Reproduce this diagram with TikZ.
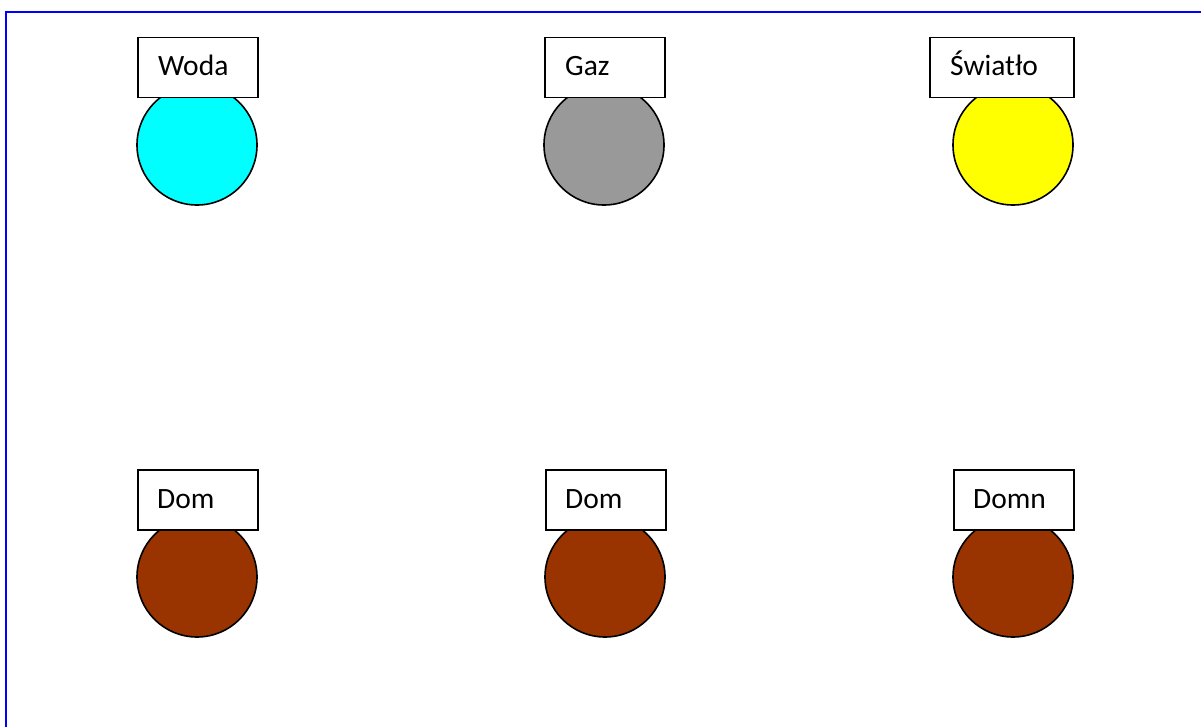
\documentclass[tikz,border=0pt]{standalone}
\usepackage{fontspec}
\setmainfont{Carlito}
\begin{document}
\begin{tikzpicture}[x=1bp,y=-1bp,
  frame/.style={draw=blue,line width=2bp},
  ball/.style={circle,draw=black,line width=1.6bp,minimum size=120bp,inner sep=0pt},
  tag/.style={rectangle,draw=black,fill=white,line width=1.5bp,minimum height=60bp,inner sep=0pt,anchor=north west},
  tagtext/.style={anchor=base west,inner sep=0pt,font=\fontsize{29.5bp}{35bp}\selectfont}]
\definecolor{waterc}{RGB}{0,255,255}
\definecolor{gasc}{RGB}{153,153,153}
\definecolor{lightc}{RGB}{255,255,0}
\definecolor{housec}{RGB}{153,51,0}
% canvas
\useasboundingbox[fill=white] (0,0) rectangle (1201,727);
% page frame
\draw[frame] (6,727) -- (6,12) -- (1201,12);
% supplies
\node[ball,fill=waterc] (c1) at (197,145) {};
\node[tag,minimum width=120bp] (t1) at (137,37) {};
\node[tagtext] (l1) at ([xshift=21bp,yshift=-39bp]t1.north west) {Woda};
\node[ball,fill=gasc] (c2) at (604,145) {};
\node[tag,minimum width=120bp] (t2) at (544,37) {};
\node[tagtext] (l2) at ([xshift=21bp,yshift=-39bp]t2.north west) {Gaz};
\node[ball,fill=lightc] (c3) at (1013,145) {};
\node[tag,minimum width=144bp] (t3) at (929,37) {};
\node[tagtext] (l3) at ([xshift=21bp,yshift=-39bp]t3.north west) {Światło};
% houses
\node[ball,fill=housec] (h1) at (197,577) {};
\node[tag,minimum width=120bp] (u1) at (137,469) {};
\node[tagtext] (m1) at ([xshift=20bp,yshift=-39bp]u1.north west) {Dom};
\node[ball,fill=housec] (h2) at (605,577) {};
\node[tag,minimum width=120bp] (u2) at (545,469) {};
\node[tagtext] (m2) at ([xshift=20bp,yshift=-39bp]u2.north west) {Dom};
\node[ball,fill=housec] (h3) at (1013,577) {};
\node[tag,minimum width=120bp] (u3) at (953,469) {};
\node[tagtext] (m3) at ([xshift=20bp,yshift=-39bp]u3.north west) {Domn};
\end{tikzpicture}
\end{document}
